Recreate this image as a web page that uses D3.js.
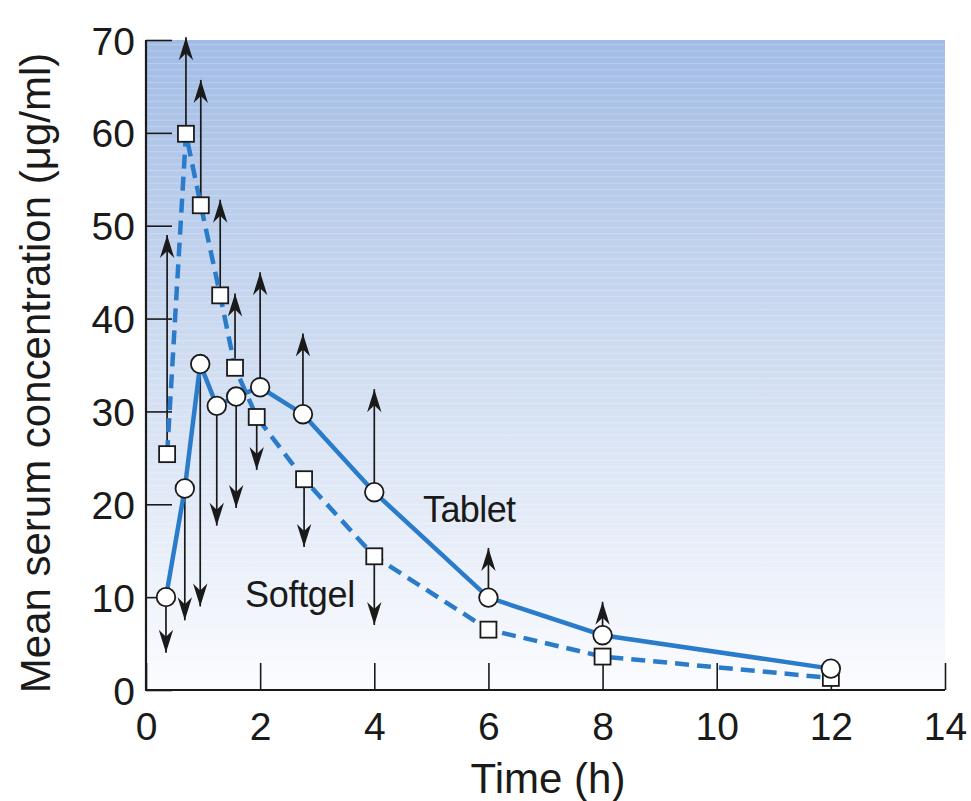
<!DOCTYPE html>
<html>
<head>
<meta charset="utf-8">
<script src="https://cdn.jsdelivr.net/npm/d3@7"></script>
<style>
  html, body { margin: 0; padding: 0; background: #ffffff; }
  svg { display: block; }
  text { font-family: "Liberation Sans", Arial, Helvetica, sans-serif; fill: #1a1a1a; }
</style>
</head>
<body>
<svg id="chart" width="971" height="801"></svg>
<script>
// ---- data ----
const xTicks = [0, 2, 4, 6, 8, 10, 12, 14];
const yTicks = [0, 10, 20, 30, 40, 50, 60, 70];

const tabletTime  = [0.35, 0.68, 0.95, 1.24, 1.58, 2, 2.75, 4, 6, 8, 12];
const tabletMean  = [10.0, 21.7, 35.1, 30.6, 31.6, 32.6, 29.7, 21.3, 9.95, 5.9, 2.3];
const tabletArrow = [4.0, 7.5, 9.0, 17.7, 19.6, 45.0, 38.4, 32.4, 15.3, 9.5, null];

const softgelTime  = [0.37, 0.70, 0.96, 1.30, 1.56, 1.94, 2.77, 4, 6, 8, 12];
const softgelMean  = [25.4, 59.9, 52.2, 42.5, 34.7, 29.4, 22.7, 14.4, 6.5, 3.6, 1.3];
const softgelArrow = [49.0, 70.3, 65.7, 52.8, 42.7, 23.7, 15.4, 7.0, null, null, null];

const seriesLabels = ["Tablet", "Softgel"];
const xTitle = "Time (h)";
const yTitle = "Mean serum concentration (\u03bcg/ml)";

// ---- layout ----
const svg = d3.select("#chart");
const x = d3.scaleLinear().domain([0, 14]).range([146, 945]);
const y = d3.scaleLinear().domain([0, 70]).range([690, 40]);
const blue = "#2b7bcb";
const ink = "#1a1a1a";

const tablet = tabletTime.map((t, i) => ({t, v: tabletMean[i], a: tabletArrow[i]}));
const softgel = softgelTime.map((t, i) => ({t, v: softgelMean[i], a: softgelArrow[i]}));

// ---- defs: gradient, stripes, arrowhead ----
const defs = svg.append("defs");
const grad = defs.append("linearGradient").attr("id", "bg")
  .attr("x1", 0).attr("y1", 0).attr("x2", 0).attr("y2", 1);
grad.append("stop").attr("offset", "0%").attr("stop-color", "#a2bce5");
grad.append("stop").attr("offset", "45%").attr("stop-color", "#ccdaf0");
grad.append("stop").attr("offset", "100%").attr("stop-color", "#fbfcff");

const pat = defs.append("pattern").attr("id", "stripes")
  .attr("patternUnits", "userSpaceOnUse").attr("width", 10).attr("height", 6.3);
pat.append("rect").attr("x", 0).attr("y", 0).attr("width", 10).attr("height", 1)
  .attr("fill", "#ffffff").attr("opacity", 0.22);

defs.append("marker").attr("id", "arrow")
  .attr("markerUnits", "userSpaceOnUse")
  .attr("viewBox", "-25 -9 27 18")
  .attr("refX", 0).attr("refY", 0)
  .attr("markerWidth", 27).attr("markerHeight", 18)
  .attr("orient", "auto")
  .append("path")
  .attr("d", "M0,0 L-23,-7.2 L-16,0 L-23,7.2 Z")
  .attr("fill", ink);

// ---- background ----
svg.append("rect")
  .attr("x", x(0)).attr("y", y(70))
  .attr("width", x(14) - x(0)).attr("height", y(0) - y(70))
  .attr("fill", "url(#bg)");
svg.append("rect")
  .attr("x", x(0)).attr("y", y(70))
  .attr("width", x(14) - x(0)).attr("height", y(0) - y(70))
  .attr("fill", "url(#stripes)");

// ---- axes ----
const yAxis = d3.axisLeft(y).tickValues(yTicks).tickSize(-26).tickPadding(38).tickFormat(d3.format("d"));
const gy = svg.append("g").attr("transform", `translate(${x(0)},0)`).call(yAxis);
gy.select(".domain").attr("stroke", ink).attr("stroke-width", 2.2)
  .attr("d", `M0,${y(70)}V${y(0)}`);
gy.selectAll(".tick line").attr("stroke", ink).attr("stroke-width", 1.6);
gy.selectAll(".tick text").attr("x", -11).attr("font-size", 39)
  .attr("font-family", "Liberation Sans, Arial, sans-serif").attr("fill", ink).attr("dy", "0.36em");

const xAxis = d3.axisBottom(x).tickValues(xTicks).tickSize(-27).tickFormat(d3.format("d"));
const gx = svg.append("g").attr("transform", `translate(0,${y(0)})`).call(xAxis);
gx.select(".domain").attr("stroke", ink).attr("stroke-width", 2.2)
  .attr("d", `M${x(0) - 1},0H${x(14)}`);
gx.selectAll(".tick line").attr("stroke", ink).attr("stroke-width", 1.6);
gx.selectAll(".tick text").attr("y", 50).attr("dy", 0).attr("font-size", 39)
  .attr("font-family", "Liberation Sans, Arial, sans-serif").attr("fill", ink);

// ---- axis titles ----
svg.append("text")
  .attr("transform", `translate(50,373) rotate(-90)`)
  .attr("text-anchor", "middle")
  .attr("font-size", 42)
  .text(yTitle);
svg.append("text")
  .attr("x", 548).attr("y", 793)
  .attr("text-anchor", "middle")
  .attr("font-size", 42)
  .text(xTitle);

// ---- error arrows ----
const arrows = svg.append("g");
[...tablet, ...softgel].filter(d => d.a !== null).forEach(d => {
  arrows.append("line")
    .attr("x1", x(d.t)).attr("y1", y(d.v))
    .attr("x2", x(d.t)).attr("y2", y(d.a))
    .attr("stroke", ink).attr("stroke-width", 1.7)
    .attr("marker-end", "url(#arrow)");
});

// ---- lines ----
const line = d3.line().x(d => x(d.t)).y(d => y(d.v));
svg.append("path").datum(softgel).attr("d", line)
  .attr("fill", "none").attr("stroke", blue).attr("stroke-width", 4.5)
  .attr("stroke-dasharray", "14,8");
svg.append("path").datum(tablet).attr("d", line)
  .attr("fill", "none").attr("stroke", blue).attr("stroke-width", 4.5);

// ---- markers ----
svg.append("g").selectAll("rect").data(softgel).join("rect")
  .attr("x", d => x(d.t) - 8).attr("y", d => y(d.v) - 8)
  .attr("width", 16).attr("height", 16)
  .attr("fill", "#ffffff").attr("stroke", ink).attr("stroke-width", 1.8);
svg.append("g").selectAll("circle").data(tablet).join("circle")
  .attr("cx", d => x(d.t)).attr("cy", d => y(d.v)).attr("r", 9.3)
  .attr("fill", "#ffffff").attr("stroke", ink).attr("stroke-width", 1.8);

// ---- series labels ----
svg.append("text").attr("x", 423).attr("y", 522).attr("font-size", 36)
  .attr("letter-spacing", "-0.6").text(seriesLabels[0]);
svg.append("text").attr("x", 245).attr("y", 607).attr("font-size", 36)
  .attr("letter-spacing", "-0.3").text(seriesLabels[1]);
</script>
</body>
</html>
